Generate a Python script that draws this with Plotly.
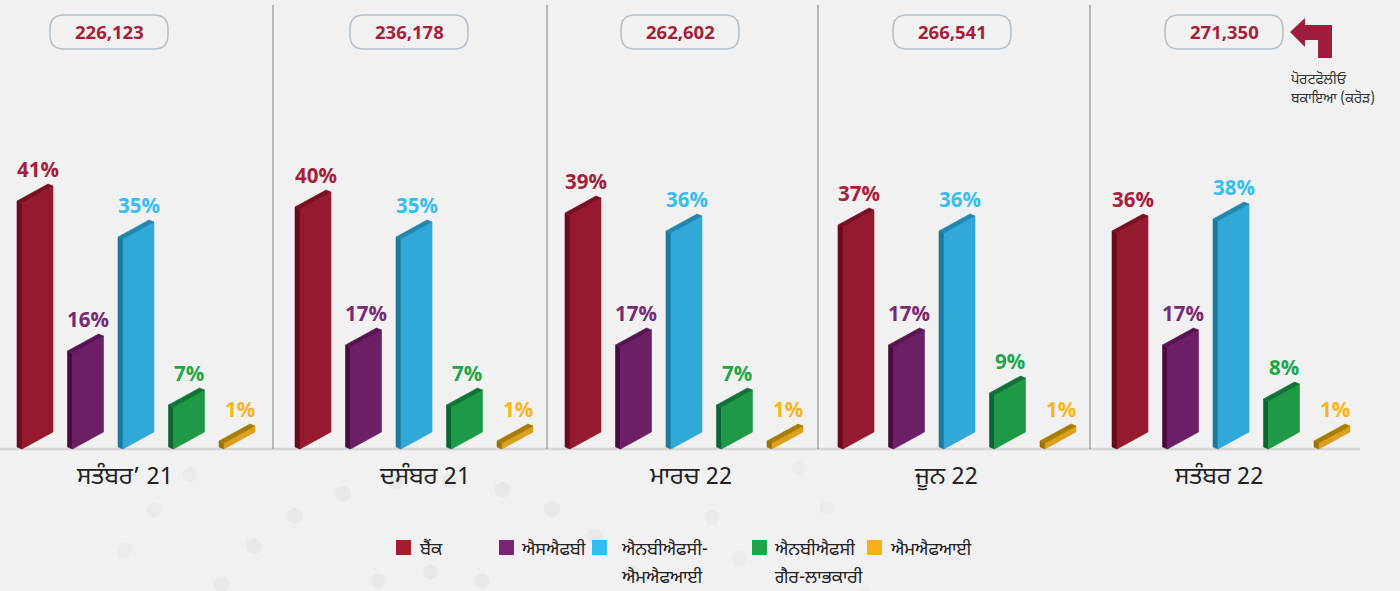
import numpy as np
import plotly.graph_objects as go

# ---------------- data ----------------
periods = ["ਸਤੰਬਰ’ 21", "ਦਸੰਬਰ 21", "ਮਾਰਚ 22", "ਜੂਨ 22", "ਸਤੰਬਰ 22"]
portfolio = [226123, 236178, 262602, 266541, 271350]
series_names = ["ਬੈਂਕ", "ਐਸਐਫਬੀ", "ਐਨਬੀਐਫਸੀ-<br>ਐਮਐਫਆਈ", "ਐਨਬੀਐਫਸੀ<br>ਗੈਰ-ਲਾਭਕਾਰੀ", "ਐਮਐਫਆਈ"]
bank = [41, 40, 39, 37, 36]
sfb = [16, 17, 17, 17, 17]
nbfc_mfi = [35, 35, 36, 36, 38]
nbfc_np = [7, 7, 7, 9, 8]
mfi = [1, 1, 1, 1, 1]
series_values = [bank, sfb, nbfc_mfi, nbfc_np, mfi]
portfolio_label = ["ਪੋਰਟਫੋਲੀਓ", "ਬਕਾਇਆ (ਕਰੋੜ)"]

# ---------------- styles ----------------
front_cols = ["#951a30", "#6d1f65", "#30a8d8", "#1e9a46", "#dca01c"]
side_cols = ["#6a0a1c", "#4a0a42", "#1d7a9e", "#0a6630", "#9a7000"]
top_cols = ["#7a0f22", "#571352", "#2088b0", "#0f7436", "#a67c05"]
label_cols = ["#a5203a", "#782a72", "#37bdee", "#21a64a", "#f7b51b"]
legend_cols = ["#a51c30", "#7a2574", "#33bced", "#1ea44a", "#f6b11a"]
BG = "#f1f1f1"
MAROON = "#a51f3a"

W, H = 1400, 591
BASE_PX = 449          # baseline pixel row
PPP = 6.0              # pixels per percent
GROUP_X0 = [17, 295, 565, 838, 1112]
BAR_STEP = 50.5
SIDE_D = 5             # depth (px) of side face
FRONT_W = 31           # front face width (px)
SLANT = 17             # rise of front face over its width (px)
DEPTH_E = 2            # upward depth component (px)
BOX_CX = [109, 409, 680, 952, 1224]
XLAB_CX = [124, 424, 690, 946, 1219]
SEPS = [273, 547, 818, 1090]
LEG_SQ_X = [396, 499, 592, 752, 867]
LEG_TXT_X = [417, 519, 619, 772, 888]

GUR = "Noto Sans Gurmukhi, Noto Sans, DejaVu Sans, sans-serif"
NUM = "Open Sans, Noto Sans, sans-serif"


def pp(py):
    """pixel row -> paper y"""
    return 1 - py / H


fig = go.Figure()

# decorative dot rings in the background
ring_center = (430, 690)
for radius, size, op in [(118, 15, 0.9), (210, 16, 0.8), (300, 15, 0.6), (390, 14, 0.45)]:
    n = int(2 * np.pi * radius / 46)
    ang = np.linspace(0, 2 * np.pi, n, endpoint=False) + radius * 0.01
    xs = ring_center[0] + radius * 1.15 * np.cos(ang)
    ys = ring_center[1] + radius * np.sin(ang)
    keep = (ys < H + 10) & (ys > 462) & (xs > 120) & (xs < 1000)
    fig.add_trace(go.Scatter(
        x=xs[keep], y=[(BASE_PX - v) / PPP for v in ys[keep]], mode="markers",
        marker=dict(size=size, color="#e7e7e7", opacity=op, line=dict(width=0)),
        hoverinfo="skip", showlegend=False))

# 3-D looking bars
for s, vals in enumerate(series_values):
    side_x, side_y, top_x, top_y, fr_x, fr_y = [], [], [], [], [], []
    for g, v in enumerate(vals):
        x0 = GROUP_X0[g] + s * BAR_STEP
        xf = x0 + SIDE_D
        h = v
        S = SLANT / PPP
        e = DEPTH_E / PPP
        fr_x += [xf, xf + FRONT_W, xf + FRONT_W, xf, xf, None]
        fr_y += [0, S, h + S, h, 0, None]
        side_x += [xf, xf, x0, x0, xf, None]
        side_y += [0, h, h + e, e, 0, None]
        top_x += [xf, xf + FRONT_W, x0 + FRONT_W, x0, xf, None]
        top_y += [h, h + S, h + S + e, h + e, h, None]
        fig.add_annotation(
            x=xf + FRONT_W / 2, y=h + S + e, yanchor="bottom", xanchor="center",
            text=f"<b>{v}%</b>", showarrow=False, yshift=-1,
            font=dict(family=NUM, size=20.5, color=label_cols[s]))
    for xx, yy, col in [(side_x, side_y, side_cols[s]), (fr_x, fr_y, front_cols[s]),
                        (top_x, top_y, top_cols[s])]:
        fig.add_trace(go.Scatter(x=xx, y=yy, mode="lines", fill="toself", fillcolor=col,
                                 line=dict(width=0.6, color=col), hoverinfo="skip",
                                 showlegend=False))

shapes = []
shapes.append(dict(type="line", xref="x", yref="y", x0=0, x1=1360, y0=0, y1=0,
                   line=dict(color="#d6d6d6", width=2.5), layer="below"))
for sx in SEPS:
    shapes.append(dict(type="line", xref="x", yref="paper", x0=sx, x1=sx,
                       y0=pp(5), y1=pp(BASE_PX), line=dict(color="#9a9a9a", width=1.3)))

# portfolio boxes (rounded)
bw, bh, r = 118, 34, 14
btop = 15
for g, cx in enumerate(BOX_CX):
    xl, xr = cx - bw / 2, cx + bw / 2
    yt, yb = pp(btop), pp(btop + bh)
    ry = r / H
    path = (f"M {xl + r},{yt} L {xr - r},{yt} Q {xr},{yt} {xr},{yt - ry} "
            f"L {xr},{yb + ry} Q {xr},{yb} {xr - r},{yb} L {xl + r},{yb} "
            f"Q {xl},{yb} {xl},{yb + ry} L {xl},{yt - ry} Q {xl},{yt} {xl + r},{yt} Z")
    shapes.append(dict(type="path", xref="x", yref="paper", path=path,
                       line=dict(color="#b5bfc8", width=1.5), fillcolor=BG))
    fig.add_annotation(x=cx, y=pp(btop + bh / 2), xref="x", yref="paper",
                       xanchor="center", yanchor="middle",
                       text=f"<b>{portfolio[g]:,}</b>", showarrow=False,
                       font=dict(family=NUM, size=18.5, color=MAROON))
    fig.add_annotation(x=XLAB_CX[g], y=pp(478), xref="x", yref="paper",
                       xanchor="center", yanchor="middle",
                       text=periods[g], showarrow=False,
                       font=dict(family=GUR, size=24, color="#222222"))

# bent arrow
arrow_pts = [(1290, 32), (1305, 18), (1305, 25), (1332, 25), (1332, 58), (1318, 58),
             (1318, 40), (1305, 40), (1305, 47)]
apath = "M " + " L ".join(f"{x},{pp(y)}" for x, y in arrow_pts) + " Z"
shapes.append(dict(type="path", xref="x", yref="paper", path=apath,
                   line=dict(width=0), fillcolor="#a01c3c"))
for i, line_txt in enumerate(portfolio_label):
    fig.add_annotation(x=1288, y=pp(80 + i * 19), xref="x", yref="paper",
                       xanchor="left", yanchor="middle",
                       text=line_txt, showarrow=False, align="left",
                       font=dict(family=GUR, size=14, color="#333333"))

# legend
for s, name in enumerate(series_names):
    sx = LEG_SQ_X[s]
    shapes.append(dict(type="rect", xref="x", yref="paper", x0=sx, x1=sx + 15,
                       y0=pp(555), y1=pp(540), line=dict(width=0), fillcolor=legend_cols[s]))
    for i, part in enumerate(name.split("<br>")):
        fig.add_annotation(x=LEG_TXT_X[s], y=pp(550 + i * 28), xref="x", yref="paper",
                           xanchor="left", yanchor="middle", text=part, showarrow=False,
                           align="left", font=dict(family=GUR, size=18, color="#222222"))

fig.update_layout(
    width=W, height=H, autosize=False,
    margin=dict(l=0, r=0, t=0, b=0),
    paper_bgcolor=BG, plot_bgcolor=BG,
    shapes=shapes, showlegend=False,
    xaxis=dict(range=[0, W], visible=False, fixedrange=True),
    yaxis=dict(range=[-(H - BASE_PX) / PPP, BASE_PX / PPP], visible=False, fixedrange=True),
)

fig.write_html("out.html", config={"displayModeBar": False},
               post_script="document.body.style.margin='0px';document.body.style.overflow='hidden';")
